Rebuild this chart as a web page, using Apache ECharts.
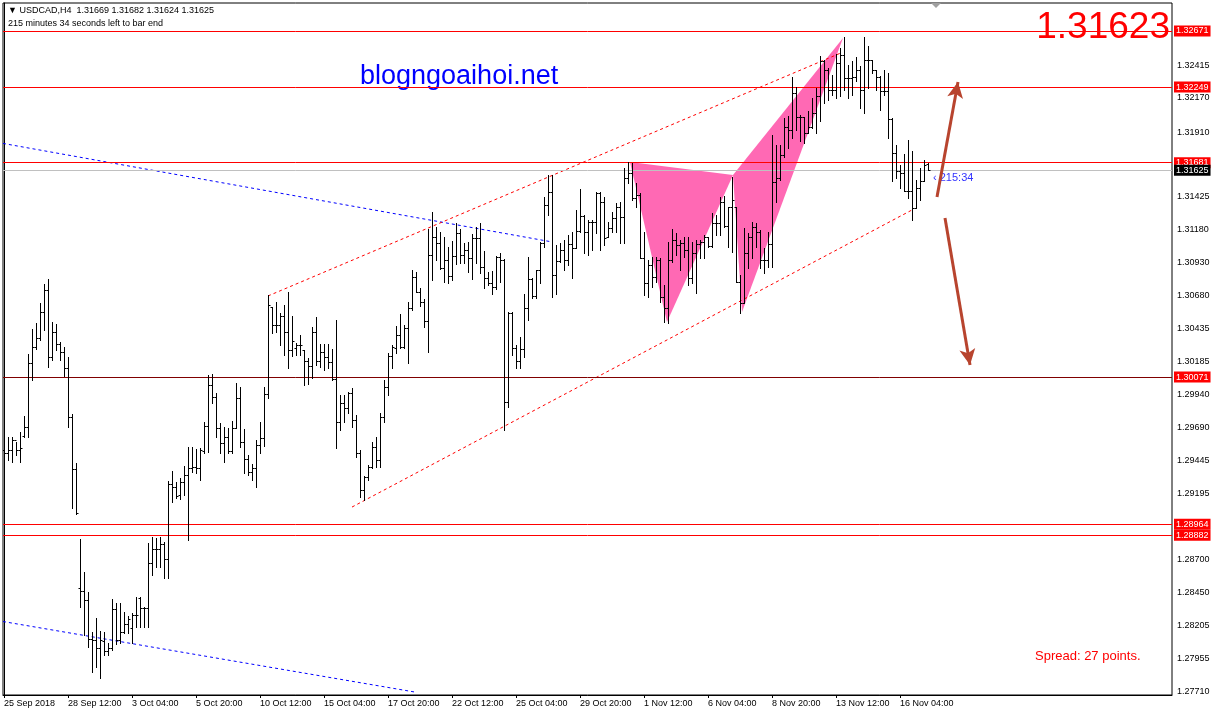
<!DOCTYPE html>
<html><head><meta charset="utf-8">
<script src="https://cdn.jsdelivr.net/npm/echarts@6/dist/echarts.min.js"></script>
<style>html,body{margin:0;padding:0;background:#fff}#c{width:1214px;height:720px}</style>
</head><body><div id="c"></div>
<script>
// H4 bars, first bar = 25 Sep 2018 20:00, labels every 16 bars
const xTickLabels = ['25 Sep 2018','28 Sep 12:00','3 Oct 04:00','5 Oct 20:00','10 Oct 12:00','15 Oct 04:00','17 Oct 20:00','22 Oct 12:00','25 Oct 04:00','29 Oct 20:00','1 Nov 12:00','6 Nov 04:00','8 Nov 20:00','13 Nov 12:00','16 Nov 04:00'];
const yTickValues = [1.27710,1.27955,1.28205,1.28450,1.28700,1.29195,1.29445,1.29690,1.29940,1.30185,1.30435,1.30680,1.30930,1.31180,1.31425,1.31910,1.32170,1.32415];

const opens = [
1.29523,1.29500,1.29523,1.29598,1.29523,1.29628,1.29696,1.30176,1.30297,1.30364,
1.30560,1.30725,1.30221,1.30409,1.30319,1.30259,1.30139,1.29771,1.29380,1.28486,
1.28463,1.28396,1.28103,1.28095,1.28035,1.28088,1.28012,1.28035,1.28328,1.28095,
1.28155,1.28215,1.28185,1.28283,1.28411,1.28335,1.28335,1.28674,1.28779,1.28779,
1.28816,1.28704,1.29267,1.29245,1.29185,1.29282,1.29335,1.29388,1.29395,1.29388,
1.29515,1.29703,1.30011,1.29921,1.29688,1.29575,1.29620,1.29515,1.29688,1.29913,
1.29583,1.29455,1.29357,1.29388,1.29560,1.29613,1.29943,1.30597,1.30462,1.30462,
1.30530,1.30409,1.30274,1.30289,1.30312,1.30274,1.30191,1.30154,1.30409,1.30191,
1.30259,1.30221,1.30184,1.30056,1.29733,1.29876,1.29838,1.29951,1.29748,1.29500,
1.29222,1.29320,1.29395,1.29545,1.29448,1.29771,1.29996,1.30229,1.30289,1.30387,
1.30297,1.30439,1.30590,1.30823,1.30710,1.30635,1.30492,1.30988,1.31123,1.31078,
1.30890,1.30950,1.30830,1.30980,1.31153,1.30988,1.31025,1.30965,1.31116,1.31116,
1.30898,1.30815,1.30777,1.30747,1.30973,1.30950,1.29883,1.30552,1.30289,1.30191,
1.30282,1.30590,1.30808,1.30680,1.30875,1.31078,1.31364,1.31461,1.30838,1.30943,
1.31025,1.30950,1.31071,1.31041,1.31168,1.31281,1.31161,1.31236,1.31236,1.31454,
1.31386,1.31123,1.31191,1.31266,1.31349,1.31273,1.31567,1.31604,1.31416,1.31439,
1.30965,1.30777,1.30913,1.30823,1.30950,1.30672,1.30590,1.30950,1.31101,1.31063,
1.31078,1.31025,1.30815,1.31003,1.31071,1.31086,1.31123,1.31056,1.31228,1.31228,
1.31386,1.31206,1.31349,1.31349,1.30785,1.30627,1.31003,1.31123,1.31198,1.31161,
1.30950,1.30950,1.31071,1.31536,1.31567,1.31739,1.31950,1.31927,1.32205,1.32025,
1.32025,1.31905,1.31950,1.32055,1.32183,1.32446,1.32378,1.32228,1.32228,1.32431,
1.32491,1.32318,1.32318,1.32325,1.32378,1.32228,1.32453,1.32453,1.32378,1.32325,
1.32220,1.32220,1.32010,1.31754,1.31619,1.31604,1.31469,1.31469,1.31341,1.31491,
1.31544,1.31669];

const highs = [
1.29538,1.29620,1.29620,1.29583,1.29658,1.29778,1.30244,1.30432,1.30477,1.30627,
1.30770,1.30808,1.30485,1.30469,1.30334,1.30297,1.30221,1.29793,1.29425,1.28854,
1.28606,1.28456,1.28155,1.28260,1.28163,1.28155,1.28072,1.28403,1.28373,1.28373,
1.28305,1.28275,1.28298,1.28418,1.28418,1.28343,1.28824,1.28869,1.28861,1.28869,
1.28831,1.29290,1.29365,1.29282,1.29312,1.29403,1.29545,1.29545,1.29530,1.29538,
1.29733,1.30086,1.30094,1.29951,1.29726,1.29696,1.29688,1.29741,1.30026,1.29996,
1.29680,1.29485,1.29418,1.29598,1.29733,1.29996,1.30687,1.30597,1.30635,1.30552,
1.30612,1.30710,1.30530,1.30327,1.30387,1.30274,1.30214,1.30447,1.30522,1.30319,
1.30319,1.30319,1.30282,1.30500,1.29936,1.29936,1.29959,1.29989,1.29786,1.29523,
1.29327,1.29410,1.29583,1.29620,1.29801,1.30049,1.30252,1.30312,1.30454,1.30545,
1.30462,1.30635,1.30875,1.30860,1.30740,1.30657,1.31183,1.31311,1.31198,1.31161,
1.31123,1.31048,1.31093,1.31228,1.31183,1.31078,1.31086,1.31146,1.31198,1.31228,
1.31018,1.30860,1.30868,1.30980,1.31003,1.30958,1.30560,1.30560,1.30312,1.30372,
1.30695,1.30973,1.30815,1.30875,1.31086,1.31424,1.31589,1.31589,1.31063,1.31078,
1.31101,1.31138,1.31161,1.31326,1.31484,1.31288,1.31251,1.31251,1.31461,1.31461,
1.31424,1.31236,1.31311,1.31379,1.31386,1.31642,1.31687,1.31679,1.31529,1.31454,
1.31161,1.30950,1.30973,1.30973,1.30965,1.30763,1.31086,1.31183,1.31153,1.31101,
1.31123,1.31123,1.31086,1.31101,1.31101,1.31138,1.31123,1.31303,1.31288,1.31424,
1.31431,1.31349,1.31574,1.31349,1.30838,1.31191,1.31153,1.31236,1.31228,1.31176,
1.31041,1.31161,1.31890,1.31814,1.31814,1.32017,1.32032,1.32325,1.32250,1.32040,
1.32025,1.32070,1.32168,1.32243,1.32483,1.32453,1.32393,1.32340,1.32498,1.32543,
1.32626,1.32416,1.32446,1.32476,1.32408,1.32626,1.32558,1.32453,1.32378,1.32333,
1.32378,1.32355,1.32017,1.31814,1.31664,1.31747,1.31852,1.31769,1.31551,1.31642,
1.31702,1.31682];

const lows = [
1.29433,1.29448,1.29433,1.29485,1.29433,1.29620,1.29620,1.30049,1.30282,1.30349,
1.30424,1.30146,1.30199,1.30274,1.30199,1.30079,1.29696,1.29087,1.29042,1.28343,
1.28133,1.28042,1.27855,1.27892,1.27810,1.27982,1.27982,1.28020,1.28065,1.28072,
1.28148,1.28148,1.28072,1.28193,1.28193,1.28193,1.28193,1.28583,1.28644,1.28644,
1.28561,1.28561,1.29132,1.29162,1.29155,1.29185,1.28846,1.29357,1.29350,1.29297,
1.29500,1.29508,1.29876,1.29620,1.29500,1.29433,1.29500,1.29500,1.29688,1.29545,
1.29350,1.29335,1.29297,1.29245,1.29500,1.29553,1.29913,1.30402,1.30409,1.30312,
1.30237,1.30139,1.30229,1.30237,1.30237,1.30011,1.30019,1.30064,1.30161,1.30146,
1.30124,1.30139,1.30049,1.29538,1.29673,1.29733,1.29801,1.29696,1.29470,1.29170,
1.29147,1.29297,1.29388,1.29395,1.29395,1.29733,1.29936,1.30139,1.30252,1.30289,
1.30289,1.30176,1.30575,1.30710,1.30605,1.30447,1.30259,1.30800,1.30950,1.30883,
1.30785,1.30777,1.30800,1.30920,1.30928,1.30928,1.30860,1.30808,1.30928,1.30853,
1.30740,1.30763,1.30695,1.30732,1.30785,1.29673,1.29846,1.30237,1.30139,1.30139,
1.30221,1.30500,1.30665,1.30665,1.30777,1.31048,1.31288,1.30672,1.30695,1.30935,
1.30875,1.30913,1.30815,1.31041,1.31161,1.31003,1.30988,1.31025,1.31153,1.31025,
1.31063,1.31123,1.31161,1.31161,1.31078,1.31078,1.31529,1.31401,1.31349,1.30965,
1.30687,1.30672,1.30747,1.30785,1.30635,1.30485,1.30477,1.30935,1.30988,1.30875,
1.30973,1.30763,1.30777,1.30702,1.30965,1.30965,1.31048,1.31048,1.31138,1.31138,
1.31198,1.31048,1.31010,1.30785,1.30552,1.30627,1.30890,1.30965,1.31048,1.30890,
1.30853,1.30898,1.30898,1.31386,1.31551,1.31724,1.31792,1.31867,1.31927,1.31845,
1.31829,1.31905,1.31942,1.31905,1.31995,1.32130,1.32153,1.32190,1.32168,1.32183,
1.32228,1.32168,1.32190,1.32295,1.32092,1.32055,1.32243,1.32355,1.32228,1.32077,
1.32190,1.31867,1.31544,1.31567,1.31491,1.31469,1.31416,1.31251,1.31341,1.31401,
1.31544,1.31624];

const closes = [
1.29500,1.29523,1.29598,1.29523,1.29538,1.29696,1.30176,1.30297,1.30364,1.30560,
1.30725,1.30221,1.30409,1.30319,1.30259,1.30139,1.29771,1.29380,1.29049,1.28463,
1.28396,1.28103,1.28095,1.28035,1.28095,1.28012,1.28035,1.28328,1.28095,1.28155,
1.28215,1.28253,1.28283,1.28283,1.28335,1.28335,1.28674,1.28779,1.28779,1.28816,
1.28704,1.29267,1.29245,1.29177,1.29282,1.29335,1.29388,1.29395,1.29388,1.29523,
1.29703,1.30011,1.29921,1.29688,1.29575,1.29620,1.29515,1.29688,1.29913,1.29583,
1.29455,1.29357,1.29388,1.29560,1.29613,1.29943,1.30612,1.30462,1.30462,1.30530,
1.30409,1.30274,1.30342,1.30312,1.30312,1.30191,1.30154,1.30409,1.30191,1.30259,
1.30221,1.30184,1.30056,1.29733,1.29876,1.29838,1.29951,1.29748,1.29500,1.29222,
1.29320,1.29395,1.29545,1.29448,1.29771,1.29996,1.30229,1.30297,1.30387,1.30297,
1.30439,1.30590,1.30823,1.30710,1.30635,1.30492,1.30988,1.31123,1.31078,1.30890,
1.30950,1.30830,1.30980,1.31153,1.30988,1.31025,1.30965,1.31116,1.31116,1.30898,
1.30815,1.30777,1.30747,1.30973,1.30950,1.29883,1.30552,1.30289,1.30191,1.30282,
1.30590,1.30808,1.30680,1.30875,1.31078,1.31364,1.31461,1.30838,1.30943,1.31025,
1.30950,1.31071,1.31041,1.31168,1.31281,1.31161,1.31236,1.31236,1.31454,1.31386,
1.31116,1.31191,1.31266,1.31349,1.31273,1.31567,1.31604,1.31416,1.31439,1.30965,
1.30777,1.30913,1.30823,1.30950,1.30672,1.30590,1.30950,1.31101,1.31063,1.31078,
1.31025,1.30815,1.31003,1.31071,1.31086,1.31123,1.31056,1.31228,1.31228,1.31386,
1.31206,1.31349,1.31401,1.30785,1.30627,1.31003,1.31123,1.31198,1.31161,1.30950,
1.30950,1.31071,1.31536,1.31567,1.31739,1.31950,1.31927,1.32205,1.32025,1.32025,
1.31905,1.31950,1.32055,1.32183,1.32446,1.32378,1.32228,1.32228,1.32431,1.32491,
1.32318,1.32318,1.32325,1.32378,1.32228,1.32453,1.32453,1.32378,1.32325,1.32220,
1.32220,1.32010,1.31754,1.31619,1.31604,1.31469,1.31469,1.31341,1.31491,1.31544,
1.31664,1.31625];

// horizontal levels [price, line colour, label background]
const levels = [
  [1.32671,'#FF0000','#FF0000'],
  [1.32249,'#FF0000','#FF0000'],
  [1.31681,'#FF0000','#FF0000'],
  [1.31625,'#C0C0C0','#000000'],
  [1.30071,'#800000','#FF0000'],
  [1.28964,'#FF0000','#FF0000'],
  [1.28882,'#FF0000','#FF0000']
];
// trend lines: [barIndex, price] pairs
const channelUpper = [[66, 1.30680],[209.25, 1.32506]];
const channelLower = [[87, 1.29094],[227, 1.31326]];
const blueUpper = [[-0.25, 1.31826],[137, 1.31086]];
const blueLower = [[-0.25, 1.28234],[102.75, 1.27704]];
// harmonic pattern points X, A, B, C, D
const patternX = [156.5, 1.31687], patternA = [165.75, 1.30485], patternB = [182.25, 1.31589];
const patternC = [184.5, 1.30560], patternD = [209.75, 1.32618];
// projection arrows
const arrowUp = [[233.25, 1.31424],[238.5, 1.32288]];
const arrowDown = [[235.25, 1.31266],[241.5, 1.30161]];

const FONT = 'Liberation Sans';
const X_MIN = -0.25, X_MAX = 292;
const bars = opens.map((o,i)=>[i,o,highs[i],lows[i],closes[i]]);
const triangles = [
  [...patternX, ...patternA, ...patternB],
  [...patternB, ...patternC, ...patternD]
];

function renderBar(params, api){
  const i = api.value(0);
  const pO = api.coord([i, api.value(1)]);
  const pH = api.coord([i, api.value(2)]);
  const pL = api.coord([i, api.value(3)]);
  const pC = api.coord([i, api.value(4)]);
  const x = Math.round(pH[0]) + 0.5;
  const yO = Math.round(pO[1]) + 0.5, yC = Math.round(pC[1]) + 0.5;
  const st = {stroke:'#000', lineWidth:1};
  return {type:'group', children:[
    {type:'line', shape:{x1:x, y1:Math.round(pH[1]), x2:x, y2:Math.round(pL[1])+1}, style:st},
    {type:'line', shape:{x1:x-2, y1:yO, x2:x, y2:yO}, style:st},
    {type:'line', shape:{x1:x, y1:yC, x2:x+2, y2:yC}, style:st}
  ]};
}
function renderTri(params, api){
  const pts = [0,2,4].map(k => api.coord([api.value(k), api.value(k+1)]));
  return {type:'polygon', shape:{points:pts}, style:{fill:'#FF69B4'}};
}
function trend(data, color){
  return {type:'line', data, showSymbol:false, silent:true, animation:false, clip:true, z:3,
    lineStyle:{color, width:1, type:[3,3]}};
}

const chart = echarts.init(document.getElementById('c'));
chart.setOption({
  animation:false,
  backgroundColor:'#ffffff',
  grid:{left:3, right:42, top:3, bottom:25, show:true, borderColor:'#000', borderWidth:1},
  xAxis:{type:'value', min:X_MIN, max:X_MAX, splitLine:{show:false},
    axisLine:{show:true, lineStyle:{color:'#000'}},
    axisTick:{show:true, length:3, lineStyle:{color:'#000'}, customValues:xTickLabels.map((_,k)=>k*16)},
    axisLabel:{customValues:xTickLabels.map((_,k)=>k*16), formatter:v=>xTickLabels[Math.round(v/16)],
      align:'left', margin:4, color:'#000', fontFamily:FONT, fontSize:9}},
  yAxis:{type:'value', position:'right', min:1.27682, max:1.32881, splitLine:{show:false},
    axisLine:{show:true, lineStyle:{color:'#000'}},
    axisTick:{show:false},
    axisLabel:{customValues:yTickValues, formatter:v=>v.toFixed(5), margin:5, color:'#000', fontFamily:FONT, fontSize:9}},
  graphic:[
    {type:'text', left:8, top:6, style:{text:'▼ USDCAD,H4  1.31669 1.31682 1.31624 1.31625', fill:'#000', font:'9px '+FONT}},
    {type:'text', left:8, top:19, style:{text:'215 minutes 34 seconds left to bar end', fill:'#000', font:'9px '+FONT}},
    {type:'text', left:360, top:63, style:{text:'blogngoaihoi.net', fill:'#0000FF', font:'27px '+FONT}},
    {type:'text', right:44, top:9, style:{text:'1.31623', fill:'#FF0000', font:'37px '+FONT}},
    {type:'text', left:1035, top:650, style:{text:'Spread: 27 points.', fill:'#FF0000', font:'13px '+FONT}},
    {type:'text', left:933, top:172, style:{text:'‹ 215:34', fill:'#3333FF', font:'11px '+FONT}},
    {type:'polygon', shape:{points:[[931,3],[941,3],[936,8]]}, style:{fill:'#A0A0A0'}}
  ],
  series:[
    {type:'custom', renderItem:renderTri, data:triangles, silent:true, z:1, clip:true},
    trend(blueUpper,'#0000FF'),
    trend(blueLower,'#0000FF'),
    trend(channelUpper,'#FF0000'),
    trend(channelLower,'#FF0000'),
    {type:'line', data:[], silent:true, z:4,
      markLine:{symbol:'none', silent:true, animation:false,
        data: levels.map(([v,lc,bg])=>[
          {coord:[X_MIN, v], lineStyle:{color:lc, width:1, type:'solid'},
           label:{show:true, position:'end', distance:2, formatter:v.toFixed(5), color:'#fff', backgroundColor:bg,
             padding:[1,2,1,2], fontFamily:FONT, fontSize:9}},
          {coord:[X_MAX, v]}
        ])}},
    {type:'custom', renderItem:renderBar, data:bars, silent:true, z:5, clip:true},
    {type:'line', data:[], silent:true, z:6,
      markLine:{silent:true, animation:false, symbol:['none','arrow'], symbolSize:[12,16],
        lineStyle:{color:'#B8442E', width:3, type:'solid'}, label:{show:false},
        data:[[{coord:arrowUp[0]},{coord:arrowUp[1]}],[{coord:arrowDown[0]},{coord:arrowDown[1]}]]}}
  ]
});
</script></body></html>
